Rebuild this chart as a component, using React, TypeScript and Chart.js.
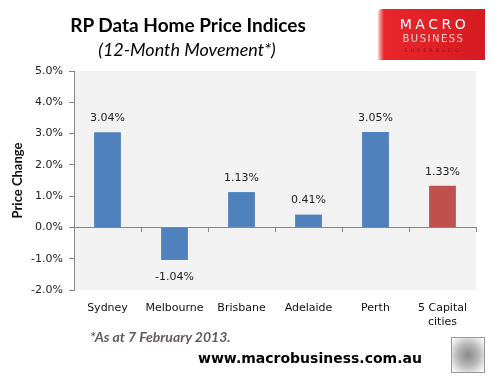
import React, { useEffect, useRef } from "react";
import { Chart, registerables } from "chart.js";

Chart.register(...registerables);

const categories: (string | string[])[] = ["Sydney", "Melbourne", "Brisbane", "Adelaide", "Perth", ["5 Capital", "cities"]];
const values: number[] = [3.04, -1.04, 1.13, 0.41, 3.05, 1.33];
const barColors: string[] = ["#4F81BD", "#4F81BD", "#4F81BD", "#4F81BD", "#4F81BD", "#C0504D"];
const yMin = -2;
const yMax = 5;

const TICK_FONT = "'DejaVu Sans', Tahoma, sans-serif";
const CAL_FONT = "Lato, 'Open Sans', sans-serif";

const plotBg = {
  id: "plotBg",
  beforeDraw(chart: any) {
    const { ctx, chartArea } = chart;
    ctx.save();
    ctx.fillStyle = "#F2F2F2";
    ctx.fillRect(chartArea.left, chartArea.top, chartArea.right - chartArea.left, chartArea.bottom - chartArea.top);
    ctx.restore();
  },
};

const zeroAndLabels = {
  id: "zeroAndLabels",
  afterDatasetsDraw(chart: any) {
    const { ctx, chartArea, scales } = chart;
    const y0 = scales.y.getPixelForValue(0);
    ctx.save();
    ctx.strokeStyle = "#868686";
    ctx.lineWidth = 1;
    ctx.beginPath();
    ctx.moveTo(chartArea.left - 5, Math.round(y0) + 0.5);
    ctx.lineTo(chartArea.right, Math.round(y0) + 0.5);
    const n = categories.length;
    const w = (chartArea.right - chartArea.left) / n;
    for (let i = 1; i <= n; i++) {
      const x = Math.round(chartArea.left + i * w) + 0.5;
      ctx.moveTo(x, Math.round(y0));
      ctx.lineTo(x, Math.round(y0) + 5);
    }
    ctx.stroke();
    // data labels
    const meta = chart.getDatasetMeta(0);
    ctx.fillStyle = "#222";
    ctx.font = `11px ${TICK_FONT}`;
    ctx.textAlign = "center";
    ctx.textBaseline = "middle";
    meta.data.forEach((el: any, i: number) => {
      const v = values[i];
      const txt = v.toFixed(2) + "%";
      const y = v >= 0 ? el.y - 14 : el.y + 17;
      ctx.fillText(txt, el.x, y);
    });
    ctx.restore();
  },
};

export default function App() {
  const ref = useRef<HTMLCanvasElement>(null);
  useEffect(() => {
    document.body.style.margin = "0";
    const chart = new Chart(ref.current!, {
      type: "bar",
      data: {
        labels: categories,
        datasets: [
          {
            data: values,
            backgroundColor: barColors,
            borderWidth: 0,
            barPercentage: 0.4,
            categoryPercentage: 1,
          },
        ],
      },
      options: {
        animation: false,
        responsive: false,
        maintainAspectRatio: false,
        events: [],
        layout: { padding: { top: 71, right: 19, bottom: 0, left: 0 } },
        plugins: { legend: { display: false }, title: { display: false }, tooltip: { enabled: false } },
        scales: {
          x: {
            offset: true,
            grid: { display: false, drawTicks: false },
            border: { display: false },
            ticks: { color: "#111", font: { family: TICK_FONT, size: 11 }, padding: 12, maxRotation: 0, autoSkip: false },
            afterFit: (s: any) => { s.height = 88; },
          },
          y: {
            min: yMin,
            max: yMax,
            ticks: {
              stepSize: 1,
              color: "#222",
              font: { family: TICK_FONT, size: 11 },
              padding: 6,
              callback: (v: any) => Number(v).toFixed(1) + "%",
            },
            grid: {
              drawOnChartArea: false,
              drawTicks: true,
              tickLength: 5,
              tickColor: "#868686",
              color: "#868686",
            },
            border: { display: true, color: "#868686" },
            title: {
              display: true,
              text: "Price Change",
              color: "#111",
              font: { family: CAL_FONT, size: 13, weight: "bold" },
              padding: { top: 10, bottom: 0 },
            },
            afterFit: (s: any) => { s.width = 74; },
          },
        },
      },
      plugins: [plotBg, zeroAndLabels],
    });
    return () => chart.destroy();
  }, []);

  return (
    <div style={{ position: "fixed", left: 0, top: 0, width: 495, height: 378, background: "#fff", overflow: "hidden" }}>
      <canvas ref={ref} width={495} height={378} style={{ position: "absolute", left: 0, top: 0, width: 495, height: 378 }} />
      <div style={{ position: "absolute", left: 0, width: 376, top: 13, textAlign: "center", fontFamily: CAL_FONT, fontWeight: 700, fontSize: 19, lineHeight: "24px", color: "#000" }}>
        RP Data Home Price Indices
      </div>
      <div style={{ position: "absolute", left: 0, width: 374, top: 37, textAlign: "center", fontFamily: CAL_FONT, fontStyle: "italic", fontSize: 18, lineHeight: "24px", color: "#000" }}>
        (12-Month Movement*)
      </div>
      <div style={{ position: "absolute", left: 378, top: 9, width: 107, height: 51, background: "linear-gradient(90deg, #f7d0d0 0px, #e8252b 6px, #e02025 60%, #d41a1f 100%)", borderTopLeftRadius: 4 }}>
        <div style={{ position: "absolute", left: 0, width: 113, top: 7, textAlign: "center", fontFamily: "'DejaVu Sans', sans-serif", fontSize: 14, lineHeight: "16px", letterSpacing: 3.5, color: "#fff" }}>MACRO</div>
        <div style={{ position: "absolute", left: 0, width: 111, top: 24, textAlign: "center", fontFamily: "'DejaVu Sans', sans-serif", fontSize: 10, lineHeight: "12px", letterSpacing: 1.5, color: "#f8caca" }}>BUSINESS</div>
        <div style={{ position: "absolute", left: 0, width: 110, top: 37, textAlign: "center", fontFamily: "'DejaVu Sans', sans-serif", fontSize: 5, lineHeight: "8px", letterSpacing: 3, color: "#a01015" }}>SUPERBLOG</div>
      </div>
      <div style={{ position: "absolute", left: 90, top: 328, fontFamily: CAL_FONT, fontStyle: "italic", fontWeight: 700, fontSize: 14, lineHeight: "18px", color: "#625b5b" }}>
        *As at 7 February 2013.
      </div>
      <div style={{ position: "absolute", left: 198, top: 349, fontFamily: "'DejaVu Sans', Tahoma, sans-serif", fontWeight: 700, fontSize: 14, lineHeight: "18px", color: "#000" }}>
        www.macrobusiness.com.au
      </div>
      <div style={{ position: "absolute", left: 451, top: 337, width: 32, height: 34, border: "1px solid #9a9a9a", background: "radial-gradient(ellipse at 50% 50%, #8a8a8a 0%, #b5b5b5 45%, #e8e8e8 80%, #fff 100%)" }} />
    </div>
  );
}
